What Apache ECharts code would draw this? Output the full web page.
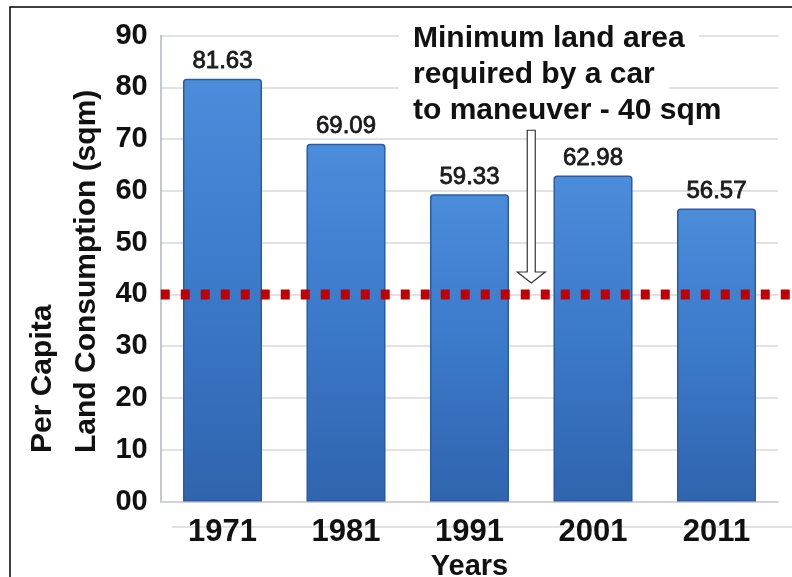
<!DOCTYPE html>
<html><head><meta charset="utf-8">
<script src="https://cdn.jsdelivr.net/npm/echarts@6/dist/echarts.min.js"></script>
<style>html,body{margin:0;padding:0;background:#fff}#c{width:792px;height:577px}</style>
</head><body><div id="c"></div>
<script>
// ---- data ----
const years = ['1971', '1981', '1991', '2001', '2011'];
const consumption = [81.63, 69.09, 59.33, 62.98, 56.57];
const minCarArea = 40;
const yMin = 0, yMax = 90, yStep = 10;
const annotationLines = ['Minimum land area', 'required by a car', 'to maneuver - 40 sqm'];
const yAxisTitleLines = ['Per Capita', 'Land Consumption (sqm)'];
const xAxisTitle = 'Years';
// arrow annotation (value-space)
const arrowFrom = 71.7, arrowTo = 42.2;

const FONT = '"Liberation Sans", Arial, sans-serif';
const chart = echarts.init(document.getElementById('c'), null, {renderer: 'canvas'});
const G = {left: 160.75, top: 35.5, width: 617.5, height: 466};

chart.setOption({
  backgroundColor: '#ffffff',
  animation: false,
  grid: [
    {left: G.left, top: G.top, width: G.width, height: G.height, containLabel: false, outerBoundsMode: 'none'},
    {left: G.left, top: G.top, right: 0, height: G.height, containLabel: false, outerBoundsMode: 'none'}
  ],
  xAxis: [{
    type: 'category', data: years, gridIndex: 0,
    axisTick: {show: false},
    axisLine: {lineStyle: {color: '#cfcfcf', width: 1.5}},
    axisLabel: {color: '#111', fontFamily: FONT, fontWeight: 'bold', fontSize: 31, margin: 15},
    name: xAxisTitle, nameLocation: 'middle', nameGap: 46,
    nameTextStyle: {color: '#111', fontFamily: FONT, fontWeight: 'bold', fontSize: 29}
  }, {
    type: 'value', gridIndex: 1, min: 0, max: 1, show: false
  }],
  yAxis: [{
    type: 'value', gridIndex: 0, min: yMin, max: yMax, interval: yStep,
    axisLine: {show: true, lineStyle: {color: '#a9b9cc', width: 1.5}},
    axisTick: {show: false},
    splitLine: {lineStyle: {color: '#d9d9d9', width: 1.5}},
    axisLabel: {
      color: '#111', fontFamily: FONT, fontWeight: 'bold', fontSize: 29, margin: 13,
      formatter: v => (v < 10 ? '0' + v : String(v))
    }
  }, {
    type: 'value', gridIndex: 1, min: yMin, max: yMax, show: false
  }],
  series: [{
    type: 'bar', data: consumption, xAxisIndex: 0, yAxisIndex: 0,
    barWidth: '64%',
    itemStyle: {
      color: new echarts.graphic.LinearGradient(0, 0, 0, 1, [
        {offset: 0, color: '#4b8cdb'},
        {offset: 0.5, color: '#3b79c9'},
        {offset: 1, color: '#3064ae'}
      ]),
      borderColor: '#2b5c9f', borderWidth: 1.5, borderRadius: [3, 3, 0, 0]
    },
    label: {
      show: true, position: 'top', distance: 5,
      color: '#1a1a1a', fontFamily: FONT, fontSize: 24,
      textBorderColor: '#1a1a1a', textBorderWidth: 0.8,
      formatter: p => p.value.toFixed(2)
    },
    z: 2
  }, {
    type: 'line', xAxisIndex: 1, yAxisIndex: 1,
    data: [[0, minCarArea], [1, minCarArea]],
    symbol: 'none', silent: true,
    lineStyle: {color: '#c00000', width: 10, type: [9, 11], cap: 'butt'},
    z: 5
  }]
});

// derived annotation positions
const xA = (chart.convertToPixel({xAxisIndex: 0}, years[2]) + chart.convertToPixel({xAxisIndex: 0}, years[3])) / 2;
const yTop = chart.convertToPixel({yAxisIndex: 0}, arrowFrom);
const yTip = chart.convertToPixel({yAxisIndex: 0}, arrowTo);
const sw = 4, hw = 14, hh = 11;
const y0 = chart.convertToPixel({yAxisIndex: 0}, 0);

chart.setOption({
  graphic: [
    {type: 'rect', shape: {x: 10, y: 7, width: 900, height: 800},
     style: {fill: 'none', stroke: '#000', lineWidth: 1.5}, silent: true, z: 100},
    {type: 'line', shape: {x1: 172, y1: y0 + 25.5, x2: 792, y2: y0 + 25.5},
     style: {stroke: '#d8d8d8', lineWidth: 1.5}, z: 0, silent: true},
    {type: 'text', x: 65, y: 453, rotation: Math.PI / 2, z: 50,
     style: {text: yAxisTitleLines.join('\n'), fontFamily: FONT, fontWeight: 'bold', fontSize: 30,
             fill: '#111', align: 'left', verticalAlign: 'middle', lineHeight: 44}},
    {type: 'text', x: 399, y: 21, z: 40,
     style: {
       text: annotationLines.map(l => '{a|' + l + '}').join('\n'),
       rich: {a: {fontFamily: FONT, fontWeight: 'bold', fontSize: 30, lineHeight: 36,
                  fill: '#111', backgroundColor: '#fff', padding: [0, 14, 0, 14]}},
       align: 'left', verticalAlign: 'top'
     }},
    {type: 'polygon', z: 45, silent: true,
     shape: {points: [
       [xA - sw, yTop], [xA + sw, yTop], [xA + sw, yTip - hh], [xA + hw, yTip - hh],
       [xA, yTip], [xA - hw, yTip - hh], [xA - sw, yTip - hh]
     ]},
     style: {fill: '#fff', stroke: '#333', lineWidth: 1.2}}
  ]
});
</script></body></html>
